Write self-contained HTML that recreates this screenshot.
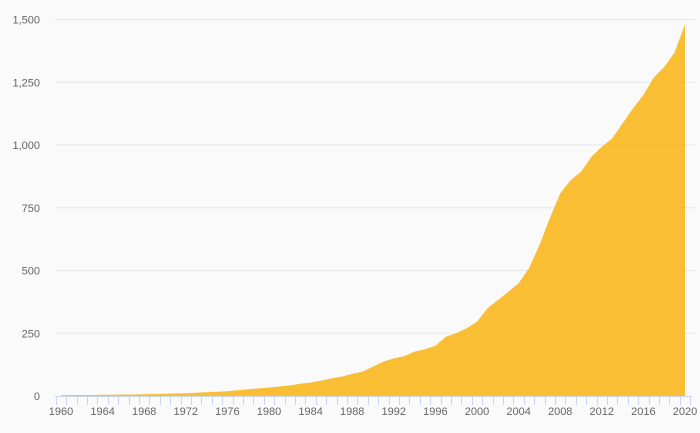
<!DOCTYPE html>
<html><head><meta charset="utf-8"><style>
html,body{margin:0;padding:0;background:#fafafa;}
svg{display:block;font-family:"Liberation Sans",sans-serif;}
</style></head><body>
<svg id="chart" width="700" height="433">
<rect width="700" height="433" fill="#fafafa"/>
<g id="grid"></g><g id="area"></g><g id="axes"></g>
</svg>
<script>
const years=[];for(let y=1960;y<=2020;y++)years.push(y);
const values=[3,4,4,4,5,5,6,6,7,8,9,10,11,13,15,17,19,23,27,30,34,38,42,49,54,61,70,77,88,97,117,137,150,159,177,186,200,236,250,270,296,349,382,415,449,509,601,708,807,860,893,953,993,1026,1086,1146,1199,1269,1311,1369,1481];
const yTicks=[0,250,500,750,1000,1250,1500];
const yTickLabels=["0","250","500","750","1,000","1,250","1,500"];
const xTickLabels=[1960,1964,1968,1972,1976,1980,1984,1988,1992,1996,2000,2004,2008,2012,2016,2020];
const NS="http://www.w3.org/2000/svg";
const X0=61,X1=685,Y0=396,Y1=19.5,YMAX=1500;
const xs=y=>X0+(y-years[0])*(X1-X0)/(years[years.length-1]-years[0]);
const ys=v=>Y0-v*(Y0-Y1)/YMAX;
const step=(X1-X0)/(years.length-1);
function mk(tag,attrs,parent){const e=document.createElementNS(NS,tag);for(const k in attrs)e.setAttribute(k,attrs[k]);parent.appendChild(e);return e;}
const grid=document.getElementById('grid'),area=document.getElementById('area'),axes=document.getElementById('axes');
yTicks.forEach((v,i)=>{
 if(v>0){const l=mk('line',{x1:55,x2:695,y1:ys(v),y2:ys(v),stroke:'#e6e6e6','stroke-width':1},grid);
 
 }
 const t=mk('text',{x:40,y:ys(v)+4,'text-anchor':'end','font-size':11,fill:'#666'},axes);t.textContent=yTickLabels[i];
 
 
});
let d='M'+xs(years[0])+','+Y0;
years.forEach((y,i)=>{d+=' L'+xs(y).toFixed(2)+','+ys(values[i]).toFixed(2);});
d+=' L'+xs(years[years.length-1])+','+Y0+' Z';
const p=mk('path',{d:d,fill:'#f9b923','fill-opacity':0.92},area);


const ax=mk('line',{x1:55,x2:692,y1:Y0+0.5,y2:Y0+0.5,stroke:'#ccd6eb','stroke-width':1},axes);


for(let i=0;i<=years.length;i++){
 const x=Math.round(xs(years[0])-step/2+i*step)+0.5;
 const tk=mk('line',{x1:x,x2:x,y1:Y0,y2:Y0+9,stroke:'#ccd6eb','stroke-width':1},axes);
 
 
}
xTickLabels.forEach(y=>{
 const t=mk('text',{x:xs(y),y:415,'text-anchor':'middle','font-size':11,fill:'#666'},axes);t.textContent=y;
 
 
});
</script>
</body></html>
